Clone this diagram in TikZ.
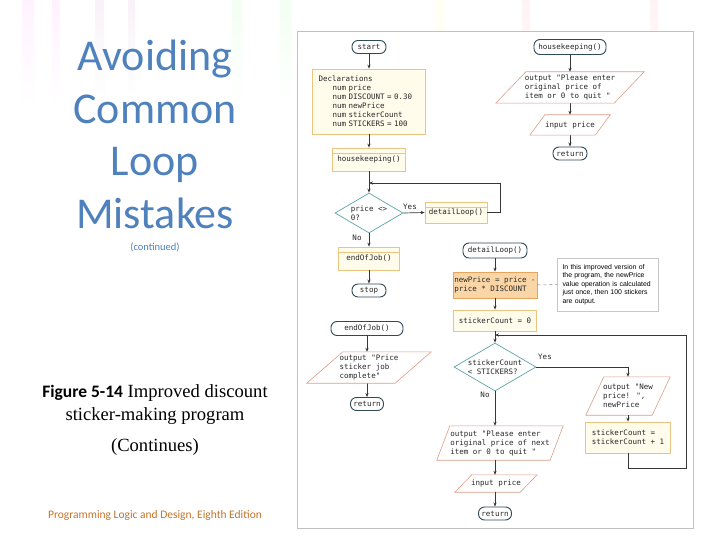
\documentclass[tikz,border=0pt]{standalone}
\usepackage{fontspec}
\setmainfont{Liberation Serif}
\newfontfamily\calfont{Carlito}
\newfontfamily\chartfont{DejaVu Sans Mono}
\newfontfamily\notefont{Liberation Sans}
\usetikzlibrary{shapes.geometric,arrows.meta}
\definecolor{titleblue}{RGB}{79,129,189}
\definecolor{footc}{RGB}{192,117,42}
\definecolor{termc}{RGB}{46,74,85}
\definecolor{procf}{RGB}{255,252,235}
\definecolor{procb}{RGB}{236,196,130}
\definecolor{calcf}{RGB}{250,213,165}
\definecolor{calcb}{RGB}{230,165,95}
\definecolor{iob}{RGB}{220,158,138}
\definecolor{decb}{RGB}{95,165,165}
\definecolor{arrc}{RGB}{55,55,55}
\definecolor{panelc}{RGB}{192,192,192}
\definecolor{chtext}{RGB}{40,40,40}
\newcommand\chfont{\chartfont\fontsize{7.5}{9}\selectfont}
\begin{document}
\begin{tikzpicture}[x=1pt,y=-1pt,
    term/.style={draw=termc,line width=0.9pt,rounded corners=6pt,fill=white,font=\chfont,text=chtext,minimum height=13pt,inner sep=0pt},
    proc/.style={draw=procb,line width=0.7pt,fill=procf,font=\chfont,text=chtext,inner sep=0pt},
    pred/.style={proc,path picture={\draw[procb,line width=0.6pt] ([yshift=-5pt]path picture bounding box.north west) -- ([yshift=-5pt]path picture bounding box.north east);}},
    calc/.style={draw=calcb,line width=0.7pt,fill=calcf,font=\chfont,text=chtext,inner sep=0pt,align=left},
    io/.style={font=\chfont,text=chtext,inner sep=0pt,align=left},
    iobord/.style={draw=iob,line width=0.6pt},
    dec/.style={diamond,draw=decb,line width=0.7pt,fill=white,font=\chfont,text=chtext,inner sep=0pt,aspect=1.7,align=left},
    lbl/.style={font=\chfont,text=chtext,inner sep=0pt},
    arr/.style={draw=arrc,line width=0.7pt,-{Stealth[length=4pt,width=3.2pt]}},
    note/.style={draw=black!22,line width=0.5pt,fill=white,font=\notefont\fontsize{6.9}{8.5}\selectfont,align=left,text width=90pt,inner xsep=5.5pt,inner ysep=0pt}]
\useasboundingbox (0,0) rectangle (720,540);
\fill[white] (0,0) rectangle (720,540);
\foreach \xa/\xb/\c in {22/34/magenta,52/60/magenta,95/104/violet,128/135/violet,232/242/green,280/292/green,435/445/yellow,522/530/red,650/658/red}
  \shade[top color=\c!5,bottom color=white] (\xa,0) rectangle (\xb,105);

\node[font=\calfont\fontsize{44}{52.7}\selectfont,text=titleblue,align=center] (title) at (155,134.5) {Avoiding\\Common\\Loop\\Mistakes};
\node[font=\calfont\fontsize{10.5}{12}\selectfont,text=titleblue] (cont) at (155,247) {(continued)};
\node[font=\fontsize{18.6}{23}\selectfont,align=center] (cap) at (155,405) {{\calfont\bfseries\fontsize{17.5}{23}\selectfont Figure 5-14} Improved discount\\sticker-making program};
\node[font=\fontsize{18.6}{23}\selectfont] (capc) at (155,447) {(Continues)};
\node[font=\calfont\fontsize{11.5}{13}\selectfont,text=footc] (foot) at (155,515) {Programming Logic and Design, Eighth Edition};

\draw[panelc,line width=0.8pt,fill=white] (297,31) rectangle (693,528);

\node[term,minimum width=34pt] (start) at (369,47) {start};
\node[proc,text width=101pt,inner xsep=6pt,minimum height=65pt,align=left] (decl) at (369,101.5) {Declarations\\
  \hspace*{14pt}num price\\
  \hspace*{14pt}num DISCOUNT = 0.30\\
  \hspace*{14pt}num newPrice\\
  \hspace*{14pt}num stickerCount\\
  \hspace*{14pt}num STICKERS = 100};
\node[pred,minimum width=73pt,minimum height=23pt] (hk) at (369,159.5) {housekeeping()};
\coordinate (j1) at (369,183);
\node[dec,minimum width=68pt,minimum height=40pt] (d1) at (369,213) {price <>\\0?};
\node[pred,minimum width=62pt,minimum height=21pt] (dl) at (456,212.5) {detailLoop()};
\node[pred,minimum width=61pt,minimum height=23pt] (ej) at (369,258.5) {endOfJob()};
\node[term,minimum width=34pt] (stop) at (369,290.5) {stop};
\node[lbl] (yes1) at (410,207) {Yes};
\node[lbl] (no1) at (357,238) {No};

\draw[arr] (start) -- (decl);
\draw[arr] (decl) -- (hk);
\draw[arr] (hk) -- (d1);
\draw[arr] (dl.east) -- ++(13,0) |- (j1);
\draw[arr] (d1.east) -- (dl.west);
\draw[arr] (d1.south) -- (ej.north);
\draw[arr] (ej) -- (stop);

\node[term,minimum width=72pt,minimum height=15pt] (hkbegin) at (570,47) {housekeeping()};
\node[io,minimum width=118pt,minimum height=31pt] (hkout) at (570,87.5) {output "Please enter\\original price of\\item or 0 to quit "};
\node[io,minimum width=65pt,minimum height=20pt] (hkin) at (570,125) {input price};
\node[term,minimum width=34pt] (hkret) at (570,153.5) {return};

\draw[arr] (hkbegin) -- (hkout.north);
\draw[arr] (hkout.south) -- (hkin.north);
\draw[arr] (hkin.south) -- (hkret);

\node[term,minimum width=72pt,minimum height=14pt] (ejbegin) at (367,328.5) {endOfJob()};
\node[io,minimum width=88pt,minimum height=31pt] (ejout) at (369,367.5) {output "Price\\sticker job\\complete"};
\node[term,minimum width=33pt] (ejret) at (367,404) {return};

\draw[arr] (ejbegin.south) -- (ejbegin.south |- ejout.north);
\draw[arr] (ejbegin |- ejout.south) -- (ejret.north);

\node[term,minimum width=64pt,minimum height=15pt] (dlbegin) at (495,250.5) {detailLoop()};
\node[calc,minimum width=84pt,minimum height=26pt] (newp) at (495,285) {newPrice = price -\\price * DISCOUNT};
\node[note,minimum height=53pt] (expl) at (607.5,284.5) {In this improved version of\\the program, the newPrice\\value operation is calculated\\just once, then 100 stickers\\are output.};
\node[proc,minimum width=83pt,minimum height=21pt] (sc0) at (495,320.5) {stickerCount = 0};
\coordinate (j2) at (495,335);
\node[dec,minimum width=82pt,minimum height=48pt] (d2) at (495,367) {stickerCount\\< STICKERS?};
\node[io,minimum width=66pt,minimum height=38pt] (nprice) at (628,396) {output "New\\price! ",\\newPrice};
\node[proc,minimum width=85pt,minimum height=31pt,align=left] (scinc) at (628,437.5) {stickerCount =\\stickerCount + 1};
\coordinate (loopR) at (686,335);
\node[io,minimum width=113pt,minimum height=34pt] (dlout) at (500,443) {output "Please enter\\original price of next\\item or 0 to quit "};
\node[io,minimum width=65pt,minimum height=17pt] (dlin) at (496,483.5) {input price};
\node[term,minimum width=33pt] (dlret) at (495,513.5) {return};
\node[lbl] (yes2) at (545,357) {Yes};
\node[lbl] (no2) at (485,395) {No};

\foreach \n/\s in {hkout/15,hkin/7.5,ejout/18,nprice/9,dlout/6.5,dlin/8.5}
  \draw[iobord] ([shift={(\s,0)}]\n.north west) -- ([shift={(\s,0)}]\n.north east)
    -- ([shift={(-\s,0)}]\n.south east) -- ([shift={(-\s,0)}]\n.south west) -- cycle;

\draw[arr] (dlbegin) -- (newp);
\draw[dashed,draw=gray,line width=0.5pt] (newp.east) -- (expl.west);
\draw[arr] (newp) -- (sc0);
\draw[arr] (sc0) -- (d2);
\draw[arr] (d2.east) -| (nprice.north);
\draw[arr] (nprice.south) -- (nprice.south |- scinc.north);
\draw[arr] (scinc.south) -- ++(0,15) -| (loopR) -- (j2);
\draw[arr] (d2.south) -- (d2.south |- dlout.north);
\draw[arr] (d2 |- dlout.south) -- (d2 |- dlin.north);
\draw[arr] (d2 |- dlin.south) -- (dlret.north);
\end{tikzpicture}
\end{document}
